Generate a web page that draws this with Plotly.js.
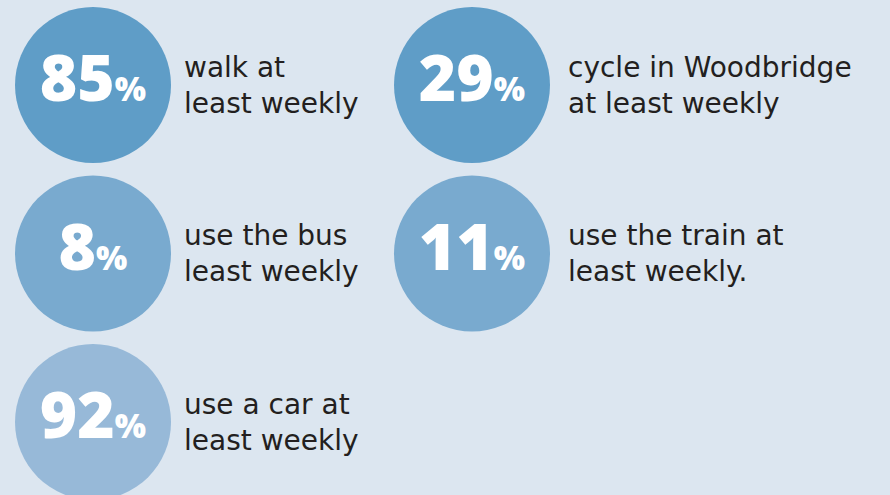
<!DOCTYPE html>
<html>
<head>
<meta charset="utf-8">
<script src="https://cdn.plot.ly/plotly-3.0.1.min.js"></script>
<style>
  html, body { margin: 0; padding: 0; background: #dce6f0; }
  #plot { width: 890px; height: 495px; }
</style>
</head>
<body>
<div id="plot"></div>
<script>
/* travel habits - share of people doing each at least weekly */
var pct      = [85, 29, 8, 11, 92];
var captions = ["walk at<br>least weekly",
                "cycle in Woodbridge<br>at least weekly",
                "use the bus<br>least weekly",
                "use the train at<br>least weekly.",
                "use a car at<br>least weekly"];
var col      = [0, 1, 0, 1, 0];
var row      = [0, 0, 1, 1, 2];
var colours  = ["#5f9dc7", "#5f9dc7", "#79aacf", "#79aacf", "#97b9d8"];

var numText = pct.map(function (v) {
  return v + "<span style='font-size:33px'>%</span>";
});

var circles =
{
  x: col,
  y: row,
  mode: "markers+text",
  type: "scatter",
  text: numText,
  textposition: "middle center",
  textfont: {family: "'Open Sans', sans-serif", size: 64, color: "white", weight: 800},
  marker: {color: colours, size: 156, line: {width: 0}},
  hoverinfo: "skip",
  cliponaxis: false
};

// captions sit to the right of each circle
var notes = captions.map(function (c, i) {
  return {
    x: col[i], y: row[i], xref: "x", yref: "y",
    text: c, showarrow: false,
    xanchor: "left", yanchor: "middle", align: "left",
    xshift: col[i] ? 94 : 89,
    font: {family: "'DejaVu Sans', sans-serif", size: 28, color: "#231f20"}
  };
});

var layout =
{
  width: 890,
  height: 495,
  margin: {l: 0, r: 0, t: 0, b: 0},
  paper_bgcolor: "#dce6f0",
  plot_bgcolor: "#dce6f0",
  showlegend: false,
  xaxis: {range: [-0.2454, 2.1029], visible: false, fixedrange: true},
  yaxis: {range: [2.4332, -0.5045], visible: false, fixedrange: true},
  annotations: notes
};

Plotly.newPlot("plot", [circles], layout, {displayModeBar: false, staticPlot: true});
</script>
</body>
</html>
